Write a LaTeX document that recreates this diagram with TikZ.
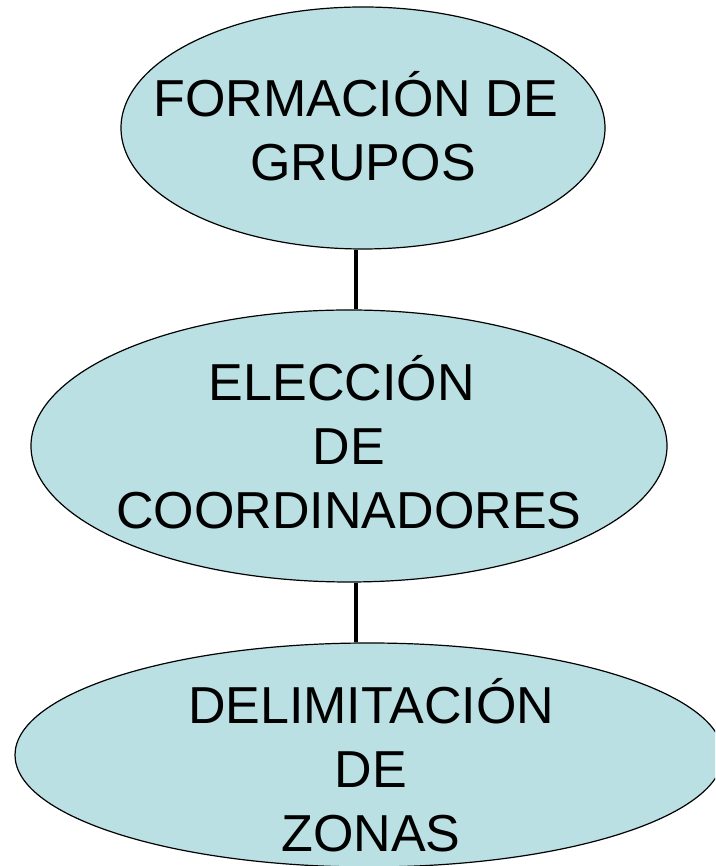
\documentclass[tikz,border=0pt]{standalone}
\usepackage{fontspec}
\setmainfont{Liberation Sans}
\usetikzlibrary{shapes.geometric}
\definecolor{bubblefill}{RGB}{186,224,227}

\begin{document}
\begin{tikzpicture}[x=1pt,y=1pt,
    bubble/.style={draw, ellipse, fill=bubblefill, line width=1.2pt, inner sep=0pt},
    caption/.style={align=center, inner sep=0pt, font=\fontsize{52}{64}\selectfont}]

        \useasboundingbox (0,0) rectangle (715,866);
        \clip (0,0) rectangle (715,866);

        \node[bubble, minimum width=484pt, minimum height=242pt] (grupos) at (363,738) {};
        \node[caption] (grupostxt) at (363,740)
        {
            FORMACIÓN DE\hspace*{0.278em}\\
            GRUPOS
        };

        \node[bubble, minimum width=636pt, minimum height=272pt] (coordinadores) at (349,420) {};
        \node[caption] (coordinadorestxt) at (349,423.5)
        {
            ELECCIÓN\hspace*{0.278em}\\
            DE\\
            COORDINADORES
        };

        \node[bubble, minimum width=708pt, minimum height=224pt] (zonas) at (369,111) {};
        \node[caption] (zonastxt) at (371,101)
        {
            DELIMITACIÓN\\
            DE\\
            ZONAS
        };

        \coordinate (eje) at (355.5,0);
        \path[draw,line width=4pt,-] (grupos.south -| eje) -- (coordinadores.north -| eje);
        \path[draw,line width=4pt,-] (coordinadores.south -| eje) -- (zonas.north -| eje);
    \end{tikzpicture}
\end{document}
